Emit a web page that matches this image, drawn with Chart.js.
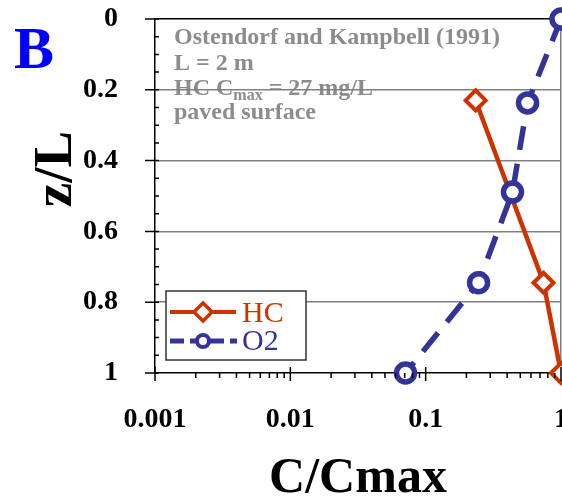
<!DOCTYPE html>
<html>
<head>
<meta charset="utf-8">
<style>
  html, body { margin: 0; padding: 0; background: #fff; overflow: hidden; }
  canvas { display: block; }
</style>
<script src="https://cdn.jsdelivr.net/npm/chart.js@4/dist/chart.umd.min.js"></script>
</head>
<body>
<canvas id="profile" width="562" height="499"></canvas>
<script>
// concentration profiles vs. depth
const hcConc = [0.234, 0.743, 1.0];
const hcDepth = [0.23, 0.745, 1.0];
const o2Conc = [1.0, 0.566, 0.438, 0.246, 0.071];
const o2Depth = [0, 0.237, 0.489, 0.745, 1.0];

const xTicks = [0.001, 0.01, 0.1, 1];
const yTicks = [0, 0.2, 0.4, 0.6, 0.8, 1];

const HC_COLOR = '#CC3300';
const O2_COLOR = '#333399';
const SERIF = "'Liberation Serif', 'Times New Roman', serif";

function toPoints(xs, ys) {
    return xs.map((x, i) => ({ x: x, y: ys[i] }));
}

// keep the plot box fixed: no extra room for overhanging labels
function noPadding(s) {
    s.paddingLeft = 0;
    s.paddingRight = 0;
    s.paddingTop = 0;
    s.paddingBottom = 0;
}

// text, legend and tick marks drawn straight on the canvas
const decorations = {
    id: 'decorations',
    beforeDraw(chart) {
        const ctx = chart.ctx;
        ctx.save();
        ctx.fillStyle = '#fff';
        ctx.fillRect(0, 0, chart.width, chart.height);

        // panel letter
        ctx.fillStyle = '#0000FF';
        ctx.font = 'bold 60px ' + SERIF;
        ctx.textBaseline = 'alphabetic';
        ctx.fillText('B', 14, 68);

        // site notes
        ctx.fillStyle = '#8C8C8C';
        ctx.font = 'bold 24px ' + SERIF;
        ctx.fillText('Ostendorf and Kampbell (1991)', 174, 44);
        ctx.fillText('L = 2 m', 174, 70);
        let x = 174;
        ctx.fillText('HC C', x, 95);
        x += ctx.measureText('HC C').width;
        ctx.font = 'bold 16px ' + SERIF;
        ctx.fillText('max', x, 100);
        x += ctx.measureText('max').width;
        ctx.font = 'bold 24px ' + SERIF;
        ctx.fillText(' = 27 mg/L', x, 95);
        ctx.fillText('paved surface', 174, 119);

        // axis titles
        ctx.fillStyle = '#000';
        ctx.font = 'bold 50px ' + SERIF;
        ctx.textAlign = 'center';
        ctx.fillText('C/Cmax', 358, 492);
        ctx.save();
        ctx.font = 'bold 55px ' + SERIF;
        ctx.translate(71, 169);
        ctx.rotate(-Math.PI / 2);
        ctx.fillText('z/L', 0, 0);
        ctx.restore();

        // x tick labels (decades only)
        const xs = chart.scales.x;
        ctx.font = 'bold 28px ' + SERIF;
        ctx.textBaseline = 'middle';
        xTicks.forEach(v => ctx.fillText(String(v), xs.getPixelForValue(v), 420));
        ctx.restore();
    },
    afterDatasetsDraw(chart) {
        const ctx = chart.ctx;
        const xs = chart.scales.x;
        const ys = chart.scales.y;
        ctx.save();
        ctx.strokeStyle = '#000';
        ctx.lineWidth = 1.5;
        ctx.beginPath();
        // y ticks: majors cross the axis, minors every 0.05 inside
        for (let k = 0; k <= 20; k++) {
            const py = ys.getPixelForValue(k * 0.05);
            if (k % 4 === 0) {
                ctx.moveTo(ys.right - 10, py);
                ctx.lineTo(ys.right + 4, py);
            } else {
                ctx.moveTo(ys.right, py);
                ctx.lineTo(ys.right + 4, py);
            }
        }
        // x ticks: decades cross the axis, 2..9 below it
        const base = xs.top;
        for (let e = -3; e <= 0; e++) {
            for (let m = 1; m <= 9; m++) {
                const v = m * Math.pow(10, e);
                if (v > 1.0000001) break;
                const px = xs.getPixelForValue(v);
                if (m === 1) {
                    ctx.moveTo(px, base - 6);
                    ctx.lineTo(px, base + 8);
                } else {
                    ctx.moveTo(px, base);
                    ctx.lineTo(px, base + 5);
                }
            }
        }
        ctx.stroke();

        // legend
        ctx.fillStyle = '#fff';
        ctx.fillRect(166, 291, 140, 69);
        ctx.strokeStyle = '#333';
        ctx.lineWidth = 1.5;
        ctx.strokeRect(166, 291, 140, 69);

        ctx.strokeStyle = HC_COLOR;
        ctx.lineWidth = 4;
        ctx.beginPath();
        ctx.moveTo(170, 312);
        ctx.lineTo(236, 312);
        ctx.stroke();
        ctx.lineWidth = 3.5;
        ctx.beginPath();
        ctx.moveTo(203, 303);
        ctx.lineTo(212, 312);
        ctx.lineTo(203, 321);
        ctx.lineTo(194, 312);
        ctx.closePath();
        ctx.fill();
        ctx.stroke();

        ctx.strokeStyle = O2_COLOR;
        ctx.lineWidth = 5;
        ctx.setLineDash([14, 6]);
        ctx.beginPath();
        ctx.moveTo(170, 341);
        ctx.lineTo(237, 341);
        ctx.stroke();
        ctx.setLineDash([]);
        ctx.lineWidth = 4;
        ctx.beginPath();
        ctx.arc(203, 341, 6, 0, Math.PI * 2);
        ctx.fill();
        ctx.stroke();

        ctx.font = '30px ' + SERIF;
        ctx.textBaseline = 'alphabetic';
        ctx.fillStyle = HC_COLOR;
        ctx.fillText('HC', 242, 322);
        ctx.fillStyle = O2_COLOR;
        ctx.fillText('O2', 242, 350);
        ctx.restore();
    }
};

const chart = new Chart(document.getElementById('profile'), {
    type: 'line',
    data: {
        datasets: [
            {
                label: 'O2',
                data: toPoints(o2Conc, o2Depth),
                borderColor: O2_COLOR,
                borderWidth: 5.5,
                borderDash: [24, 14],
                pointStyle: 'circle',
                pointRadius: 9,
                pointBorderWidth: 5.5,
                pointBackgroundColor: '#fff',
                pointBorderColor: O2_COLOR,
                tension: 0,
                clip: false
            },
            {
                label: 'HC',
                data: toPoints(hcConc, hcDepth),
                borderColor: HC_COLOR,
                borderWidth: 4.5,
                pointStyle: 'rectRot',
                pointRadius: 10,
                pointBorderWidth: 4,
                pointBackgroundColor: '#fff',
                pointBorderColor: HC_COLOR,
                tension: 0,
                clip: false
            }
        ]
    },
    options: {
        responsive: false,
        devicePixelRatio: 1,
        animation: false,
        events: [],
        layout: {
            autoPadding: false,
            padding: { left: 0, top: 19, right: 1, bottom: 0 }
        },
        plugins: {
            legend: { display: false },
            tooltip: { enabled: false }
        },
        scales: {
            x: {
                type: 'logarithmic',
                min: 0.001,
                max: 1,
                afterBuildTicks: s => { s.ticks = xTicks.map(v => ({ value: v })); },
                afterFit: s => {
                    s.height = 126;
                    noPadding(s);
                },
                border: { color: '#000', width: 1.5 },
                grid: {
                    drawTicks: false,
                    lineWidth: 1.5,
                    color: c => (c.tick && c.tick.value === 1 ? '#808080' : 'rgba(0,0,0,0)')
                },
                ticks: { display: false }
            },
            y: {
                type: 'linear',
                reverse: true,
                min: 0,
                max: 1,
                afterBuildTicks: s => { s.ticks = yTicks.map(v => ({ value: v })); },
                afterFit: s => {
                    s.width = 155;
                    noPadding(s);
                },
                border: { color: '#000', width: 1.5 },
                grid: {
                    drawTicks: false,
                    lineWidth: 1.5,
                    color: c => {
                        const v = c.tick ? c.tick.value : null;
                        if (v === 0) return '#000';
                        if (v === 1) return 'rgba(0,0,0,0)';
                        return '#808080';
                    }
                },
                ticks: {
                    padding: 37,
                    color: '#000',
                    font: { family: SERIF, size: 28, weight: 'bold' },
                    callback: v => String(Number(v.toFixed(1)))
                }
            }
        }
    },
    plugins: [decorations]
});
</script>
</body>
</html>
